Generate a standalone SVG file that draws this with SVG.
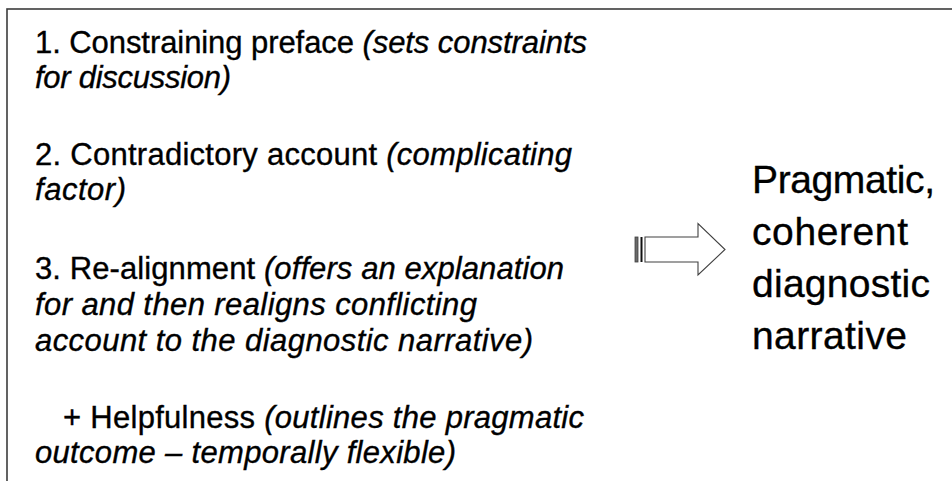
<svg xmlns="http://www.w3.org/2000/svg" width="952" height="481" viewBox="0 0 952 481">
  <style>
    .txt { font-family: "Liberation Sans", Arial, sans-serif; fill: #000; stroke: #000; stroke-width: 0.35; font-variant-ligatures: none; }
    .list { font-size: 31px; }
    .big { font-size: 39px; }
    .note { font-style: italic; }
    .frame { fill: #fff; stroke: #3c3c3c; stroke-width: 1.6; }
    .arrow { fill: #fff; stroke: #404040; stroke-width: 1.1; stroke-linejoin: miter; }
  </style>

  <rect x="0" y="0" width="952" height="481" fill="#fff"/>

  <!-- outer panel, open to the right and bottom -->
  <rect class="frame" x="7" y="9" width="980" height="500"/>

  <!-- numbered stages of the account -->
  <g id="stages" class="txt list">
    <text x="35" y="53" textLength="552">1. Constraining preface <tspan class="note">(sets constraints</tspan></text>
    <text x="35" y="88" textLength="196" class="note">for discussion)</text>

    <text x="35" y="165" textLength="537">2. Contradictory account <tspan class="note">(complicating</tspan></text>
    <text x="35" y="200" textLength="91" class="note">factor)</text>

    <text x="35" y="279" textLength="529">3. Re-alignment <tspan class="note">(offers an explanation</tspan></text>
    <text x="35" y="315" textLength="442" class="note">for and then realigns conflicting</text>
    <text x="35" y="351" textLength="498" class="note">account to the diagnostic narrative)</text>

    <text x="63" y="428" textLength="521">+ Helpfulness <tspan class="note">(outlines the pragmatic</tspan></text>
    <text x="35" y="463" textLength="421" class="note">outcome – temporally flexible)</text>
  </g>

  <!-- striped block arrow leading to the result -->
  <g id="connectors">
    <rect x="635" y="237" width="3" height="25" fill="#6a6a6a" stroke="#404040" stroke-width="0.8"/>
    <rect x="640.5" y="237" width="2" height="25" fill="#111"/>
    <path class="arrow" d="M645 237 H698 V223.5 L725 249.5 L698 275 V262 H645 Z"/>
  </g>

  <!-- resulting narrative -->
  <g id="outcome" class="txt big">
    <text x="752" y="193" textLength="183">Pragmatic,</text>
    <text x="752" y="245" textLength="156">coherent</text>
    <text x="752" y="297" textLength="178">diagnostic</text>
    <text x="752" y="349" textLength="155">narrative</text>
  </g>
</svg>
